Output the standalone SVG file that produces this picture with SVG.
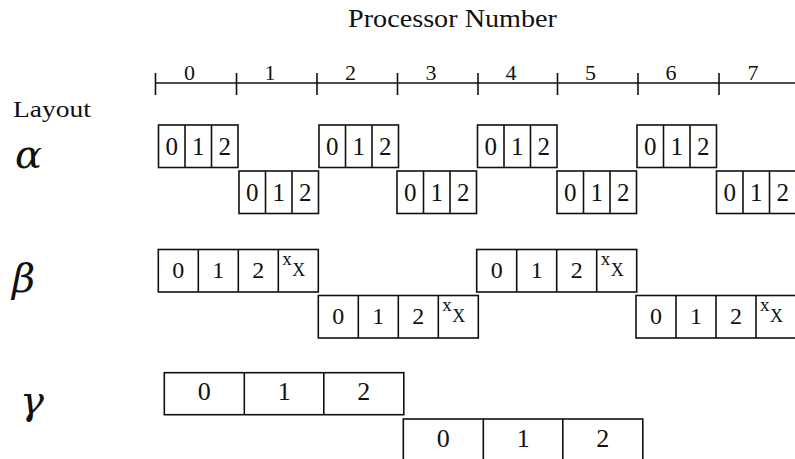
<svg xmlns="http://www.w3.org/2000/svg" width="795" height="459" viewBox="0 0 795 459">
<style>
  text { font-family: "Liberation Serif", "Times New Roman", serif; fill: #111; }
  .box { fill: #fff; stroke: #111; stroke-width: 1.6; }
  .cell { stroke: #111; stroke-width: 1.6; }
  .axis { stroke: #111; stroke-width: 1.6; fill: none; }
  .ad { font-size: 22px; text-anchor: middle; }
  .da { font-size: 25px; text-anchor: middle; }
  .db { font-size: 24px; text-anchor: middle; }
  .dg { font-size: 26px; text-anchor: middle; }
  .sx { font-size: 19px; }
  .sX { font-size: 18px; }
  .greek { font-family: "DejaVu Serif", "Liberation Serif", serif; font-size: 40px; font-style: italic; }
</style>
<rect width="795" height="459" fill="#fff"/>

<g id="header">
  <text x="348" y="27" font-size="25" textLength="209" lengthAdjust="spacingAndGlyphs">Processor Number</text>
  <text x="13" y="116.5" font-size="24" textLength="78" lengthAdjust="spacingAndGlyphs">Layout</text>
</g>

<g id="axis">
  <line class="axis" x1="155.5" y1="83" x2="795" y2="83"/>
  <line class="axis" x1="155.5" y1="73" x2="155.5" y2="95"/>
  <line class="axis" x1="236.5" y1="73" x2="236.5" y2="95"/>
  <line class="axis" x1="317" y1="73" x2="317" y2="95"/>
  <line class="axis" x1="397.5" y1="73" x2="397.5" y2="95"/>
  <line class="axis" x1="478" y1="73" x2="478" y2="95"/>
  <line class="axis" x1="557.5" y1="73" x2="557.5" y2="95"/>
  <line class="axis" x1="638" y1="73" x2="638" y2="95"/>
  <line class="axis" x1="719" y1="73" x2="719" y2="95"/>
  <text class="ad" x="189.5" y="79.5">0</text>
  <text class="ad" x="270" y="79.5">1</text>
  <text class="ad" x="350.5" y="79.5">2</text>
  <text class="ad" x="431" y="79.5">3</text>
  <text class="ad" x="511" y="79.5">4</text>
  <text class="ad" x="590.5" y="79.5">5</text>
  <text class="ad" x="671" y="79.5">6</text>
  <text class="ad" x="753" y="79.5">7</text>
</g>

<defs>
  <g id="a3">
    <rect class="box" x="0" y="0" width="79.5" height="42.5"/>
    <line class="cell" x1="26.5" y1="0" x2="26.5" y2="42.5"/>
    <line class="cell" x1="53" y1="0" x2="53" y2="42.5"/>
    <text class="da" x="13.25" y="29.5">0</text>
    <text class="da" x="39.75" y="29.5">1</text>
    <text class="da" x="66.25" y="29.5">2</text>
  </g>
  <g id="b4">
    <rect class="box" x="0" y="0" width="160" height="42.5"/>
    <line class="cell" x1="40" y1="0" x2="40" y2="42.5"/>
    <line class="cell" x1="80" y1="0" x2="80" y2="42.5"/>
    <line class="cell" x1="120" y1="0" x2="120" y2="42.5"/>
    <text class="db" x="20" y="28">0</text>
    <text class="db" x="60" y="28">1</text>
    <text class="db" x="100" y="28">2</text>
    <text class="sx" x="124" y="15">x</text>
    <text class="sX" x="134" y="26">X</text>
  </g>
  <g id="g3">
    <rect class="box" x="0" y="0" width="239.5" height="42"/>
    <line class="cell" x1="80" y1="0" x2="80" y2="42"/>
    <line class="cell" x1="159.5" y1="0" x2="159.5" y2="42"/>
    <text class="dg" x="40" y="27.5">0</text>
    <text class="dg" x="120" y="27.5">1</text>
    <text class="dg" x="199.5" y="27.5">2</text>
  </g>
</defs>

<g id="layout-alpha">
  <text class="greek" x="15" y="168">α</text>
  <use href="#a3" x="158.5" y="125"/>
  <use href="#a3" x="239" y="171"/>
  <use href="#a3" x="319" y="125"/>
  <use href="#a3" x="397" y="171"/>
  <use href="#a3" x="477.5" y="125"/>
  <use href="#a3" x="557" y="171"/>
  <use href="#a3" x="637" y="125"/>
  <use href="#a3" x="716.5" y="171"/>
</g>

<g id="layout-beta">
  <text class="greek" x="12" y="292">β</text>
  <use href="#b4" x="158.3" y="249.5"/>
  <use href="#b4" x="318.3" y="295.5"/>
  <use href="#b4" x="476.7" y="249.5"/>
  <use href="#b4" x="636" y="295.5"/>
</g>

<g id="layout-gamma">
  <text class="greek" x="20" y="414">γ</text>
  <use href="#g3" x="164.3" y="372.7"/>
  <use href="#g3" x="403.3" y="419"/>
</g>
</svg>
